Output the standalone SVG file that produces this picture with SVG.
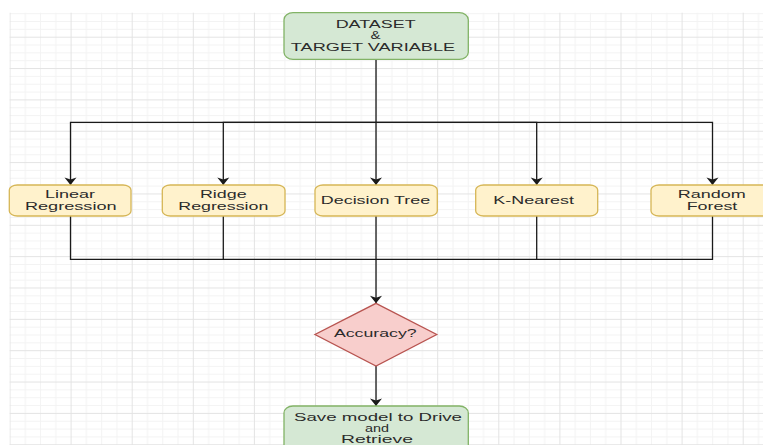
<svg xmlns="http://www.w3.org/2000/svg" width="763" height="445" viewBox="0 0 763 445">
<style>
.t{font-family:"Liberation Sans",Arial,Helvetica,sans-serif;font-size:11px;fill:#2b2b2b;text-anchor:middle}
.s{font-size:10.5px}
.y{fill:#fff2cc;stroke:#d6b656;stroke-width:1.3}
.g{fill:#d5e8d4;stroke:#82b366;stroke-width:1.3}
.r{fill:#f8cecc;stroke:#b85450;stroke-width:1.3}
.c{fill:none;stroke:#1a1a1a;stroke-width:1.3}
</style>
<defs>
<pattern id="grid" x="9.5" y="5.35" width="61.1" height="31.35" patternUnits="userSpaceOnUse">
<rect x="15.3" y="0" width="1" height="31.35" fill="#f3f3f3"/>
<rect x="30.55" y="0" width="1" height="31.35" fill="#f3f3f3"/>
<rect x="45.8" y="0" width="1" height="31.35" fill="#f3f3f3"/>
<rect x="0" y="7.84" width="61.1" height="1" fill="#f3f3f3"/>
<rect x="0" y="15.68" width="61.1" height="1" fill="#f3f3f3"/>
<rect x="0" y="23.5" width="61.1" height="1" fill="#f3f3f3"/>
<rect x="0" y="0" width="1" height="31.35" fill="#e3e3e3"/>
<rect x="0" y="0" width="61.1" height="1" fill="#e3e3e3"/>
</pattern>
<marker id="arr" markerUnits="userSpaceOnUse" markerWidth="10" markerHeight="14" viewBox="0 -7 8 14" refX="7.5" refY="0" orient="auto">
<path d="M0,-6 L7.5,0 L0,6 L2,0 Z" fill="#1a1a1a"/>
</marker>
</defs>
<rect x="0" y="0" width="763" height="445" fill="#ffffff"/>
<rect x="9.5" y="12.7" width="754" height="433" fill="url(#grid)"/>

<g id="connectors">
<path class="c" d="M376,59.3 V185" marker-end="url(#arr)"/>
<path class="c" d="M376,122.3 H70.5 V185" marker-end="url(#arr)"/>
<path class="c" d="M376,122.3 H223.3 V185" marker-end="url(#arr)"/>
<path class="c" d="M376,122.3 H536.7 V185" marker-end="url(#arr)"/>
<path class="c" d="M376,122.3 H712.5 V185" marker-end="url(#arr)"/>
<path class="c" d="M70.5,216 V259.3 H376"/>
<path class="c" d="M223.3,216 V259.3"/>
<path class="c" d="M376,216 V303.3" marker-end="url(#arr)"/>
<path class="c" d="M536.7,216 V259.3"/>
<path class="c" d="M712.5,216 V259.3 H376"/>
<path class="c" d="M376,366 V406" marker-end="url(#arr)"/>
</g>

<g id="dataset">
<rect class="g" x="284" y="12.7" width="184.3" height="46.6" rx="9" ry="7"/>
<text class="t" x="375.7" y="28" textLength="80" lengthAdjust="spacingAndGlyphs">DATASET</text>
<text class="t" x="375.5" y="39" textLength="10" lengthAdjust="spacingAndGlyphs">&amp;</text>
<text class="t" x="373" y="50.7" textLength="164.3" lengthAdjust="spacingAndGlyphs">TARGET VARIABLE</text>
</g>

<g id="linear">
<rect class="y" x="9.3" y="185" width="121.7" height="31" rx="8" ry="5"/>
<text class="t" x="70" y="198.3" textLength="50" lengthAdjust="spacingAndGlyphs">Linear</text>
<text class="t" x="70.8" y="209.7" textLength="91.7" lengthAdjust="spacingAndGlyphs">Regression</text>
</g>

<g id="ridge">
<rect class="y" x="162.3" y="185" width="122.7" height="31" rx="8" ry="5"/>
<text class="t" x="223.3" y="198.3" textLength="46.7" lengthAdjust="spacingAndGlyphs">Ridge</text>
<text class="t" x="223.3" y="209.7" textLength="90" lengthAdjust="spacingAndGlyphs">Regression</text>
</g>

<g id="decision">
<rect class="y" x="315" y="185" width="122.3" height="31" rx="8" ry="5"/>
<text class="t" x="375.5" y="204" textLength="109.3" lengthAdjust="spacingAndGlyphs">Decision Tree</text>
</g>

<g id="knearest">
<rect class="y" x="475.7" y="185" width="122" height="31" rx="8" ry="5"/>
<text class="t" x="533.7" y="204" textLength="80.7" lengthAdjust="spacingAndGlyphs">K-Nearest</text>
</g>

<g id="random">
<rect class="y" x="651" y="185" width="122" height="31" rx="8" ry="5"/>
<text class="t" x="711.7" y="198.3" textLength="68" lengthAdjust="spacingAndGlyphs">Random</text>
<text class="t" x="712" y="209.7" textLength="50.7" lengthAdjust="spacingAndGlyphs">Forest</text>
</g>

<g id="accuracy">
<path class="r" d="M376,303.3 L436.7,334.5 L376,366 L315,334.5 Z"/>
<text class="t" x="375.3" y="337.3" textLength="82.7" lengthAdjust="spacingAndGlyphs">Accuracy?</text>
</g>

<g id="save">
<rect class="g" x="284" y="406" width="184.3" height="50" rx="9" ry="7"/>
<text class="t s" x="378" y="421" textLength="168" lengthAdjust="spacingAndGlyphs">Save model to Drive</text>
<text class="t s" x="377" y="432.2" textLength="24" lengthAdjust="spacingAndGlyphs">and</text>
<text class="t s" x="377" y="443.4" textLength="72" lengthAdjust="spacingAndGlyphs">Retrieve</text>
</g>
</svg>
